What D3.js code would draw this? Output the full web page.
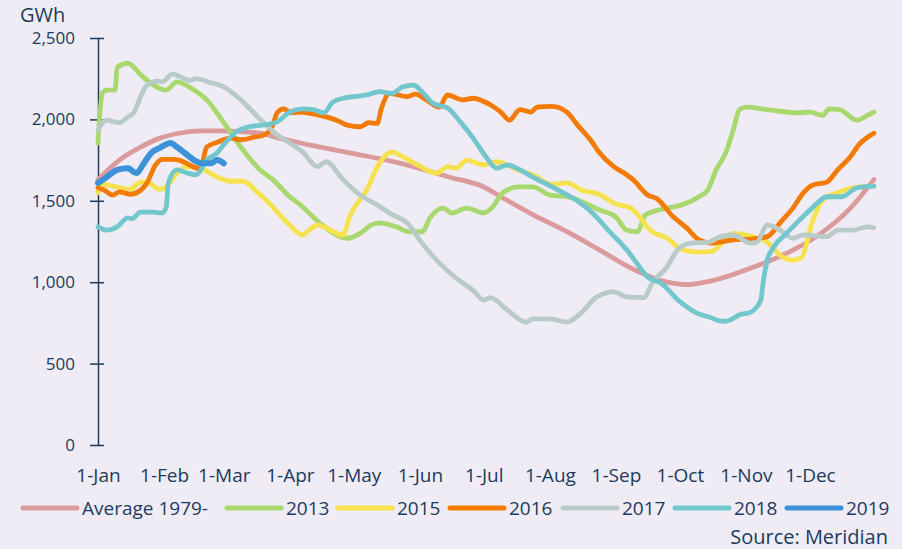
<!DOCTYPE html>
<html>
<head>
<meta charset="utf-8">
<script src="https://cdn.jsdelivr.net/npm/d3@7"></script>
<style>
  html, body { margin: 0; padding: 0; background: #EFECF5; }
  svg { display: block; }
</style>
</head>
<body>
<svg id="chart" width="902" height="549"></svg>
<script>
// ---------- DATA (day of year, GWh) ----------
const monthLabels = ["1-Jan","1-Feb","1-Mar","1-Apr","1-May","1-Jun","1-Jul","1-Aug","1-Sep","1-Oct","1-Nov","1-Dec"];
const monthDays   = [0, 31, 59, 90, 120, 151, 181, 212, 243, 273, 304, 334];
const yTicks = [0, 500, 1000, 1500, 2000, 2500];

const seriesNames  = ["Average 1979-", "2013", "2015", "2016", "2017", "2018", "2019"];
const seriesColors = ["#DB9A9B", "#A8D86E", "#F6E14F", "#F27B00", "#B9CBC9", "#72C7CD", "#3C92D9"];

const avg = [[0,1630],[10,1750],[20,1830],[29,1885],[38,1915],[48,1930],[57,1930],[67,1925],[76,1915],[85,1885],[95,1855],[118,1795],[142,1730],[165,1645],[181,1585],[189,1525],[204,1415],[220,1310],[235,1200],[251,1080],[267,1000],[276,985],[290,1015],[306,1085],[321,1165],[337,1280],[353,1455],[364,1630]];

const y2013 = [[0,1855],[2,2160],[4,2180],[8,2180],[9,2320],[14,2345],[20,2275],[24,2230],[32,2180],[37,2230],[45,2180],[51,2120],[59,1980],[67,1830],[76,1690],[82,1630],[90,1525],[95,1475],[104,1365],[117,1270],[123,1300],[128,1350],[132,1365],[140,1340],[146,1310],[152,1310],[156,1400],[162,1455],[166,1425],[173,1455],[181,1425],[185,1460],[190,1550],[197,1585],[204,1585],[212,1535],[220,1525],[227,1495],[235,1445],[243,1400],[248,1320],[253,1310],[257,1415],[267,1455],[274,1475],[282,1525],[286,1565],[290,1690],[295,1810],[298,1935],[301,2060],[304,2075],[314,2060],[329,2040],[334,2045],[340,2025],[343,2065],[348,2060],[356,1995],[361,2025],[364,2045]];

const y2015 = [[0,1550],[2,1600],[9,1585],[15,1570],[20,1615],[23,1615],[29,1570],[32,1585],[37,1670],[42,1710],[48,1700],[56,1645],[62,1620],[68,1620],[75,1550],[81,1475],[90,1350],[96,1290],[99,1320],[103,1350],[115,1290],[118,1400],[126,1565],[132,1730],[138,1800],[143,1770],[150,1720],[159,1670],[164,1710],[168,1700],[173,1750],[181,1720],[187,1740],[197,1690],[204,1660],[213,1600],[220,1610],[227,1565],[235,1540],[243,1480],[250,1455],[260,1310],[267,1270],[274,1200],[282,1185],[288,1190],[298,1300],[307,1280],[314,1245],[320,1165],[326,1135],[330,1150],[335,1365],[340,1505],[348,1555],[357,1585],[364,1590]];

const y2016 = [[0,1580],[3,1565],[7,1535],[10,1555],[15,1540],[20,1565],[23,1610],[27,1720],[30,1755],[35,1755],[38,1750],[43,1720],[48,1695],[51,1830],[56,1860],[62,1885],[67,1875],[73,1890],[78,1905],[82,1965],[84,2040],[87,2065],[91,2040],[95,2045],[104,2025],[112,1995],[117,1965],[123,1955],[127,1980],[131,1975],[133,2070],[137,2160],[145,2140],[149,2155],[154,2120],[160,2075],[164,2150],[171,2120],[176,2130],[184,2090],[189,2045],[193,1995],[198,2060],[203,2045],[206,2075],[213,2080],[220,2045],[225,1965],[231,1875],[235,1800],[242,1710],[248,1660],[251,1630],[258,1535],[262,1515],[270,1400],[276,1335],[282,1260],[288,1240],[298,1260],[306,1265],[314,1280],[320,1365],[326,1455],[331,1550],[335,1595],[342,1615],[347,1690],[353,1770],[357,1845],[361,1890],[364,1915]];

const y2017 = [[0,1935],[4,1995],[10,1980],[14,2015],[17,2045],[20,2140],[23,2210],[28,2235],[30,2230],[35,2280],[38,2265],[43,2240],[46,2250],[53,2225],[59,2200],[67,2120],[75,2015],[84,1905],[90,1855],[96,1800],[103,1710],[107,1740],[115,1630],[123,1535],[131,1475],[138,1415],[145,1365],[152,1240],[160,1120],[168,1025],[176,950],[181,890],[184,905],[192,830],[201,755],[204,775],[212,775],[220,755],[227,815],[234,910],[242,940],[248,910],[256,905],[260,995],[267,1095],[272,1200],[278,1240],[286,1245],[292,1280],[298,1290],[306,1240],[309,1245],[314,1350],[320,1320],[326,1270],[331,1290],[342,1280],[347,1320],[354,1320],[361,1340],[364,1335]];

const y2018 = [[0,1340],[4,1320],[9,1340],[14,1395],[16,1390],[20,1430],[26,1430],[30,1425],[32,1460],[33,1610],[37,1690],[42,1670],[46,1660],[51,1750],[56,1795],[59,1845],[65,1925],[71,1955],[77,1965],[84,1985],[90,2045],[96,2065],[101,2060],[106,2040],[110,2105],[115,2130],[120,2140],[126,2150],[132,2170],[138,2160],[143,2200],[148,2210],[152,2170],[157,2100],[164,2070],[170,1985],[176,1885],[182,1770],[187,1700],[192,1720],[198,1690],[204,1645],[213,1585],[223,1515],[232,1425],[240,1310],[248,1200],[254,1095],[258,1030],[264,995],[273,880],[281,810],[287,785],[293,760],[296,765],[301,800],[306,815],[311,890],[312,995],[314,1135],[317,1215],[323,1300],[329,1380],[335,1455],[342,1525],[349,1525],[356,1580],[364,1590]];

const y2019 = [[0,1610],[4,1645],[9,1690],[14,1700],[18,1670],[21,1720],[25,1795],[29,1825],[34,1855],[37,1830],[42,1780],[45,1750],[49,1730],[53,1730],[56,1750],[59,1730]];

const seriesData = [avg, y2013, y2015, y2016, y2017, y2018, y2019];
const seriesWidths = [4.8, 4.8, 4.8, 4.8, 4.8, 4.8, 6];

// ---------- LAYOUT ----------
const textColor = "#1B3B5E";
const svg = d3.select("#chart");
svg.append("rect").attr("width", 902).attr("height", 549).attr("fill", "#EFECF5");

const x = d3.scaleLinear().domain([0, 365]).range([98, 876]);
const y = d3.scaleLinear().domain([0, 2500]).range([445, 38]);

// Y axis
const yAxis = d3.axisLeft(y).tickValues(yTicks).tickFormat(d3.format(",")).tickSizeInner(8).tickSizeOuter(0).tickPadding(14);
const gy = svg.append("g").attr("transform", "translate(98,0)").call(yAxis);
gy.select(".domain").attr("stroke", textColor).attr("stroke-width", 1.5);
gy.selectAll(".tick line").attr("stroke", textColor).attr("stroke-width", 1.5).attr("x1", 6);
gy.selectAll(".tick text").attr("fill", textColor).style("font-family", "'Open Sans', sans-serif").style("font-size", "17px").attr("x", -23);

svg.append("text").attr("x", 20).attr("y", 22).text("GWh")
  .attr("fill", textColor).style("font-family", "'Open Sans', sans-serif").style("font-size", "20px");

// X axis labels (no line)
const xAxis = d3.axisBottom(x).tickValues(monthDays).tickFormat((d, i) => monthLabels[i]).tickSize(0).tickPadding(0);
const gx = svg.append("g").attr("transform", "translate(0,482)").call(xAxis);
gx.select(".domain").remove();
gx.selectAll(".tick text").attr("fill", textColor).attr("dy", 0).style("font-family", "'Open Sans', sans-serif").style("font-size", "19px");

// Lines
const line = d3.line().x(d => x(d[0])).y(d => y(d[1])).curve(d3.curveMonotoneX);
seriesData.forEach((s, i) => {
  svg.append("path").datum(s).attr("d", line)
    .attr("fill", "none").attr("stroke", seriesColors[i])
    .attr("stroke-width", seriesWidths[i])
    .attr("stroke-linejoin", "round").attr("stroke-linecap", "round");
});

// Legend
const legendX = [23, 227, 338, 450, 563, 675, 787];
const lg = svg.append("g");
seriesNames.forEach((n, i) => {
  lg.append("line").attr("x1", legendX[i]).attr("x2", legendX[i] + 54).attr("y1", 508).attr("y2", 508)
    .attr("stroke", seriesColors[i]).attr("stroke-width", 5).attr("stroke-linecap", "round");
  lg.append("text").attr("x", legendX[i] + 59).attr("y", 515).text(n)
    .attr("fill", textColor).style("font-family", "'Open Sans', sans-serif").style("font-size", "19px");
});

svg.append("text").attr("x", 888).attr("y", 544).attr("text-anchor", "end").text("Source: Meridian")
  .attr("fill", textColor).style("font-family", "'Open Sans', sans-serif").style("font-size", "20px");
</script>
</body>
</html>
